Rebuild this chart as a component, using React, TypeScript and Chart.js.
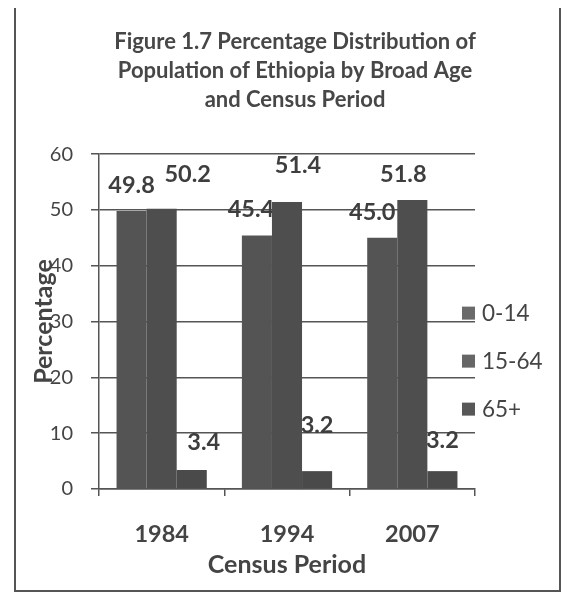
import React, { useEffect, useRef } from "react";
import { Chart, registerables } from "chart.js";

Chart.register(...registerables);

// ---- data ----
const categories = ["1984", "1994", "2007"];
const seriesNames = ["0-14", "15-64", "65+"];
const ages0to14 = [49.8, 45.4, 45.0];
const ages15to64 = [50.2, 51.4, 51.8];
const ages65plus = [3.4, 3.2, 3.2];
const yMin = 0;
const yMax = 60;
const yStep = 10;
const titleLines = [
  "Figure 1.7 Percentage Distribution of",
  "Population of Ethiopia by Broad Age",
  "and Census Period",
];
const xTitle = "Census Period";
const yTitle = "Percentage";

// ---- styles ----
const seriesColors = ["#545454", "#4e4e4e", "#4a4a4a"];
const legendColors = ["#6a6a6a", "#666666", "#575757"];
// label offsets relative to bar top centre [series][category] = [dx, dy]
const labelOffsets = [
  [[0, -26], [-6, -26], [-10, -25]],
  [[26, -34], [11, -37], [-9, -25]],
  [[12, -28], [0, -46], [0, -31]],
];
const FONT = "Lato, 'Open Sans', sans-serif";
const TEXT = "#444444";
const GRID = "#555555";

const valueLabelPlugin = {
  id: "valueLabels",
  beforeDatasetsDraw(chart: any) {
    const ctx = chart.ctx;
    ctx.save();
    ctx.font = `bold 23.5px ${FONT}`;
    ctx.fillStyle = "#3e3e3e";
    ctx.textAlign = "center";
    ctx.textBaseline = "middle";
    chart.data.datasets.forEach((ds: any, di: number) => {
      const meta = chart.getDatasetMeta(di);
      meta.data.forEach((el: any, i: number) => {
        const [dx, dy] = labelOffsets[di][i];
        ctx.fillText(Number(ds.data[i]).toFixed(1), el.x + dx, el.y + dy);
      });
    });
    ctx.restore();
  },
};

const sideLegendPlugin = {
  id: "sideLegend",
  afterDraw(chart: any) {
    const ctx = chart.ctx;
    const area = chart.chartArea;
    ctx.save();
    ctx.font = `22.5px ${FONT}`;
    ctx.textAlign = "left";
    ctx.textBaseline = "middle";
    chart.data.datasets.forEach((ds: any, i: number) => {
      const cy = area.top + 159 + i * 48;
      const bx = area.right - 13;
      ctx.fillStyle = legendColors[i];
      ctx.fillRect(bx, cy - 6.5, 13, 13);
      ctx.fillStyle = TEXT;
      ctx.fillText(ds.label, bx + 20, cy + 1);
    });
    ctx.restore();
  },
};

export default function App() {
  const ref = useRef<HTMLCanvasElement | null>(null);

  useEffect(() => {
    if (!ref.current) return;
    const chart = new Chart(ref.current, {
      type: "bar",
      data: {
        labels: categories,
        datasets: [ages0to14, ages15to64, ages65plus].map((d, i) => ({
          label: seriesNames[i],
          data: d,
          backgroundColor: seriesColors[i],
          borderWidth: 0,
          barPercentage: 1,
          categoryPercentage: 0.72,
        })),
      },
      options: {
        responsive: false,
        animation: false,
        events: [],
        font: { family: FONT },
        layout: { padding: { left: 15, right: 0, top: 0, bottom: 0 } },
        plugins: {
          legend: { display: false },
          tooltip: { enabled: false },
          title: {
            display: true,
            text: titleLines,
            color: "#474747",
            font: { family: FONT, size: 22, weight: "bold", lineHeight: 1.32 },
            padding: { top: 21.5, bottom: 39.5 },
          },
        },
        scales: {
          x: {
            grid: {
              drawOnChartArea: false,
              color: GRID,
              lineWidth: 1.5,
              tickLength: 7,
              offset: true,
            },
            border: { color: GRID, width: 1.5 },
            ticks: {
              color: TEXT,
              font: { family: FONT, size: 23.5, weight: "bold" },
              padding: 24,
            },
            title: {
              display: true,
              text: xTitle,
              color: TEXT,
              font: { family: FONT, size: 25, weight: "bold", lineHeight: 1 },
              padding: { top: 0, bottom: 12.5 },
            },
            afterFit: (s: any) => {
              s.height = 101;
            },
          },
          y: {
            min: yMin,
            max: yMax,
            ticks: {
              stepSize: yStep,
              color: TEXT,
              font: { family: FONT, size: 20 },
              padding: 18,
            },
            grid: { color: GRID, lineWidth: 1.5, tickLength: 8 },
            border: { color: GRID, width: 1.5 },
            title: {
              display: true,
              text: yTitle,
              color: TEXT,
              font: { family: FONT, size: 25, weight: "bold", lineHeight: 1 },
              padding: { top: 0, bottom: 0 },
            },
            afterFit: (s: any) => {
              s.width = 68;
            },
          },
          yRight: {
            type: "linear",
            position: "right",
            grid: { display: false },
            border: { display: false },
            ticks: { display: false },
            afterFit: (s: any) => {
              s.width = 84;
            },
          },
        },
      } as any,
      plugins: [valueLabelPlugin, sideLegendPlugin],
    });
    return () => chart.destroy();
  }, []);

  return (
    <div
      style={{
        marginLeft: 6,
        marginTop: -4,
        width: 547,
        height: 588,
        border: "2px solid #555",
        boxSizing: "border-box",
        background: "#fff",
      }}
    >
      <canvas ref={ref} width={543} height={584} style={{ display: "block" }} />
    </div>
  );
}
